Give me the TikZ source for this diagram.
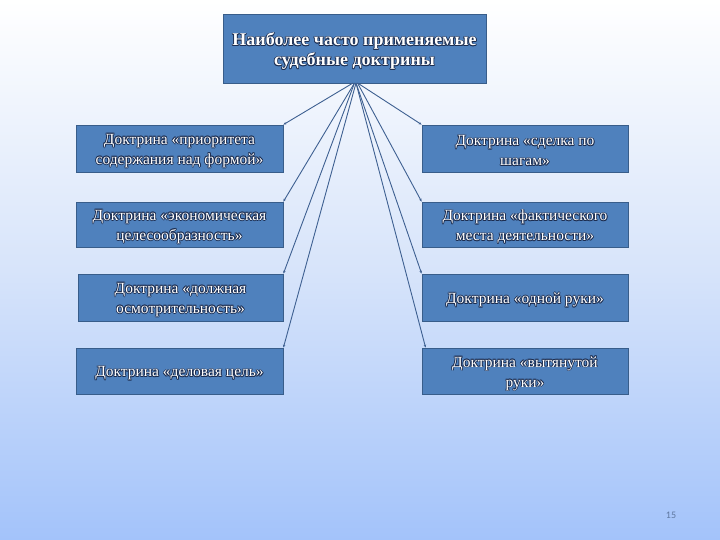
\documentclass[tikz,border=0pt]{standalone}
\usepackage{fontspec}
\setmainfont{Liberation Serif}
\newfontfamily\numfont{Carlito}
\usetikzlibrary{arrows.meta}
\definecolor{boxfill}{RGB}{79,129,189}
\definecolor{boxline}{RGB}{56,93,138}
\definecolor{linkcol}{RGB}{62,96,145}
\definecolor{bgbottom}{RGB}{163,195,250}
\definecolor{numcol}{RGB}{95,120,160}
\definecolor{edgecol}{RGB}{28,45,80}
\tikzset{
  docbox/.style={draw=boxline, line width=0.8pt, fill=boxfill, inner sep=0pt},
  doctext/.style={text=white, align=center, inner sep=0pt, font=\fontsize{15.5}{20}\selectfont},
  toptext/.style={doctext, font=\bfseries\fontsize{18}{20}\selectfont},
  link/.style={draw=linkcol, line width=0.9pt, -{Stealth[length=3pt,width=2.5pt]}}
}
% white text with a thin dark outline (dark copies behind)
\newcommand\outlinedtext[4]{% name, style, position, text
  \foreach \dx/\dy [count=\k] in {0.55/0.55,-0.55/0.55,0.55/-0.55,-0.55/-0.55,0.75/0,-0.75/0,0/0.75,0/-0.75}{
    \node[#2, text=edgecol] (#1s\k) at ([xshift=\dx pt,yshift=\dy pt]#3) {#4};}
  \node[#2] (#1) at (#3) {#4};}
\newcommand\docnode[5]{%
  \node[docbox, minimum width=#2, minimum height=#3] (#1) at (#4) {};
  \coordinate (#1c) at ([yshift=-2.5pt]#1.center);
  \outlinedtext{#1t}{doctext}{#1c}{#5}}
\begin{document}
\begin{tikzpicture}[x=1pt,y=-1pt]
\shade[top color=white, bottom color=bgbottom, middle color={rgb,255:red,215;green,228;blue,250}] (0,0) rectangle (720,540);
\useasboundingbox (0,0) rectangle (720,540);

\node[docbox, minimum width=263, minimum height=69] (top) at (354.5,48.5) {};
\coordinate (topc) at ([yshift=-3pt]top.center);
\outlinedtext{topt}{toptext}{topc}{Наиболее часто применяемые\\судебные доктрины}

\docnode{l1}{207}{47}{179.5,148.5}{Доктрина «приоритета\\содержания над формой»}
\docnode{l2}{207}{45}{179.5,224.5}{Доктрина «экономическая\\целесообразность»}
\docnode{l3}{205}{47}{180.5,297.5}{Доктрина «должная\\осмотрительность»}
\docnode{l4}{207}{46}{179.5,371}{Доктрина «деловая цель»}

\docnode{r1}{206}{47}{525,148.5}{Доктрина «сделка по\\шагам»}
\docnode{r2}{206}{45}{525,224.5}{Доктрина «фактического\\места деятельности»}
\docnode{r3}{206}{47}{525,297.5}{Доктрина «одной руки»}
\docnode{r4}{206}{46}{525,371}{Доктрина «вытянутой\\руки»}

\coordinate (s1) at (353,83);
\coordinate (s2) at (354.5,83);
\coordinate (s3) at (356,83);
\coordinate (s4) at (357.5,83);

\draw[link] (s1) -- (l1.north east);
\draw[link] (s2) -- (l2.north east);
\draw[link] (s2) -- (l3.north east);
\draw[link] (s3) -- (l4.north east);
\draw[link] (s4) -- (r1.north west);
\draw[link] (s4) -- (r2.north west);
\draw[link] (s3) -- (r3.north west);
\draw[link] (s3) -- ([xshift=4pt]r4.north west);

\node[font=\numfont\fontsize{10}{11}\selectfont, text=numcol] (pg) at (671,515) {15};
\end{tikzpicture}
\end{document}
